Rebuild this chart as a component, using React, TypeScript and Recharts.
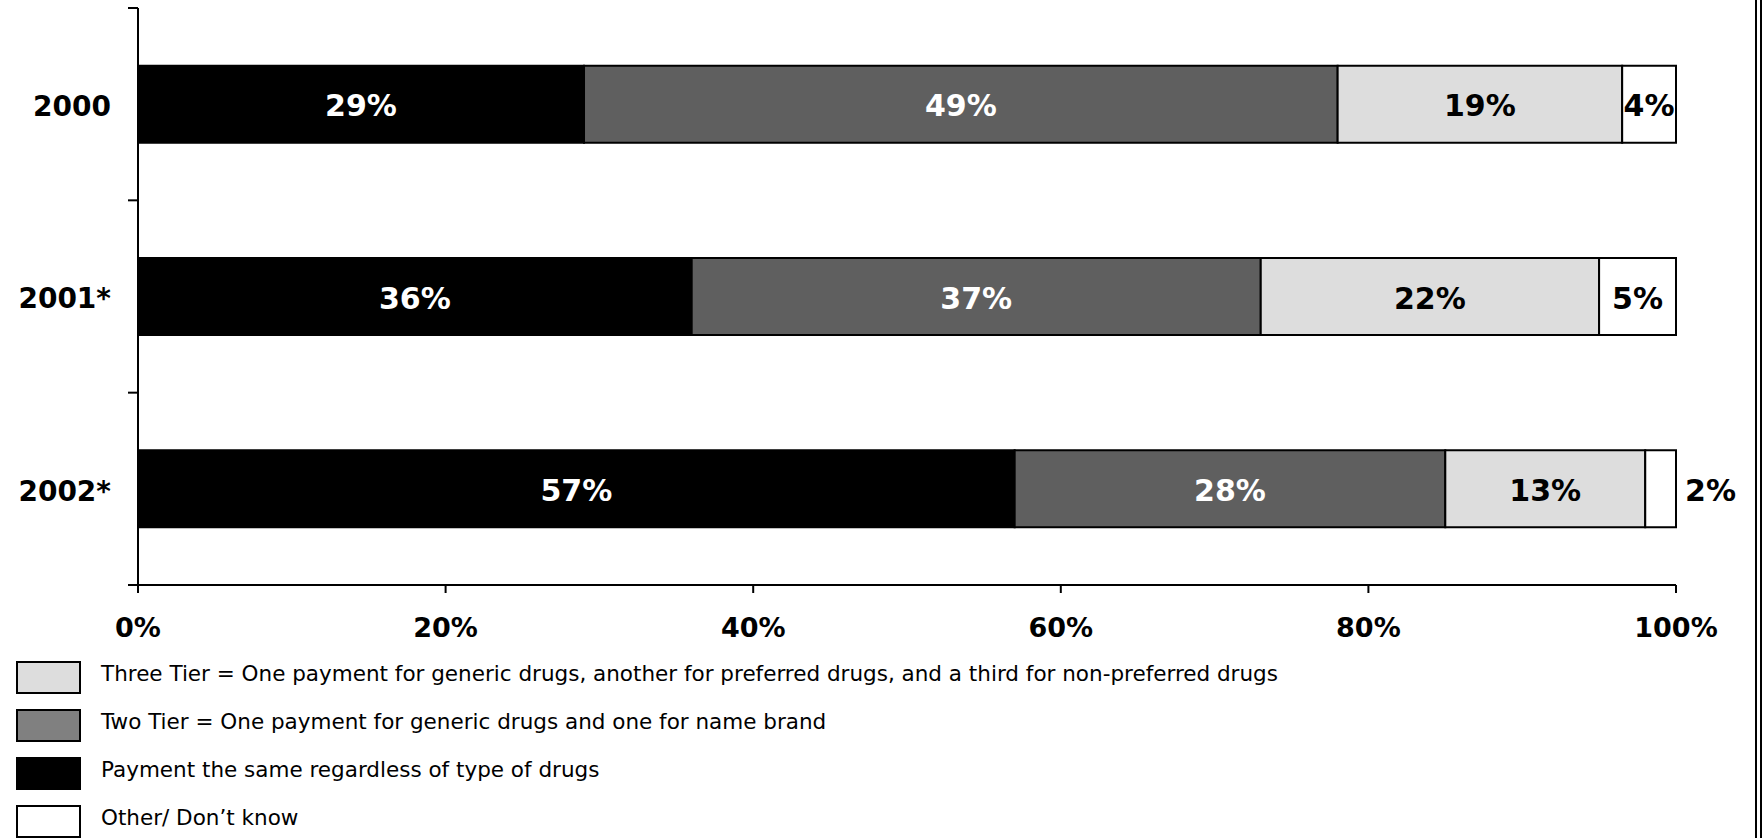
import React from 'react';
import { BarChart, Bar, XAxis, YAxis, LabelList, Legend } from 'recharts';

// ---- data ----
const years = ['2000', '2001*', '2002*'];
const sameValues = [29, 36, 57];
const twoTierValues = [49, 37, 28];
const threeTierValues = [18.5, 22, 13];
const otherValues = [3.5, 5, 2];
const xTicks = [0, 20, 40, 60, 80, 100];

const seriesKeys = ['same', 'twoTier', 'threeTier', 'other'];
const seriesLabels: Record<string, string> = {
  threeTier: 'Three Tier = One payment for generic drugs, another for preferred drugs, and a third for non-preferred drugs',
  twoTier: 'Two Tier = One payment for generic drugs and one for name brand',
  same: 'Payment the same regardless of type of drugs',
  other: 'Other/ Don\u2019t know',
};
const legendOrder = ['threeTier', 'twoTier', 'same', 'other'];

// ---- styles ----
const barColors: Record<string, string> = {
  same: '#000000',
  twoTier: '#5f5f5f',
  threeTier: '#dddddd',
  other: '#ffffff',
};
const swatchColors: Record<string, string> = {
  same: '#000000',
  twoTier: '#808080',
  threeTier: '#dddddd',
  other: '#ffffff',
};
const labelColors: Record<string, string> = {
  same: '#ffffff',
  twoTier: '#ffffff',
  threeTier: '#000000',
  other: '#000000',
};

const BOLD_FONT = '"DejaVu Sans", Verdana, sans-serif';
const LEGEND_FONT = '"DejaVu Sans", Verdana, sans-serif';

const data = years.map((y, i) => ({
  year: y,
  same: sameValues[i],
  twoTier: twoTierValues[i],
  threeTier: threeTierValues[i],
  other: otherValues[i],
}));

const makeLabel = (key: string) => (props: any) => {
  const { x, y, width, height, value } = props;
  const v = Number(value);
  const outside = v < 3;
  const tx = outside ? x + width + 9 : x + width / 2;
  return (
    <text
      x={tx}
      y={y + height / 2}
      dy="0.4em"
      textAnchor={outside ? 'start' : 'middle'}
      fill={outside ? '#000000' : labelColors[key]}
      fontFamily={BOLD_FONT}
      fontWeight="bold"
      fontSize={30}
    >
      {Math.round(v)}%
    </text>
  );
};

const YTick = (props: any) => {
  const { x, y, payload, index } = props;
  const half = payload && payload.offset ? payload.offset : 96;
  const last = index === years.length - 1;
  return (
    <g>
      <line x1={x - 10} x2={x} y1={y - half} y2={y - half} stroke="#000" strokeWidth={2} />
      {last && <line x1={x - 10} x2={x} y1={y + half} y2={y + half} stroke="#000" strokeWidth={2} />}
      <text
        x={x - 27}
        y={y}
        dy="0.42em"
        textAnchor="end"
        fill="#000"
        fontFamily={BOLD_FONT}
        fontWeight="bold"
        fontSize={28}
      >
        {payload.value}
      </text>
    </g>
  );
};

const XTick = (props: any) => {
  const { x, y, payload } = props;
  return (
    <text
      x={x}
      y={y + 32}
      dy="0.36em"
      textAnchor="middle"
      fill="#000"
      fontFamily={BOLD_FONT}
      fontWeight="bold"
      fontSize={27}
    >
      {payload.value}%
    </text>
  );
};

const LegendContent = () => (
  <div style={{ position: 'relative', width: 1400, height: 193 }}>
    {legendOrder.map((key, i) => (
      <div
        key={key}
        style={{
          position: 'absolute',
          left: 16,
          top: 16 + i * 48,
          height: 33,
          display: 'flex',
          alignItems: 'center',
        }}
      >
        <div
          style={{
            width: 61,
            height: 29,
            background: swatchColors[key],
            border: '2px solid #000',
            flex: 'none',
          }}
        />
        <span
          style={{
            marginLeft: 20,
            marginTop: -8,
            fontFamily: LEGEND_FONT,
            fontSize: 21.5,
            color: '#000',
            whiteSpace: 'nowrap',
          }}
        >
          {seriesLabels[key]}
        </span>
      </div>
    ))}
  </div>
);

export default function App() {
  return (
    <div
      style={{
        position: 'absolute',
        left: 0,
        top: 0,
        width: 1762,
        height: 838,
        boxSizing: 'border-box',
        borderRight: '7px double #000',
        background: '#fff',
        overflow: 'hidden',
      }}
    >
      <BarChart
        width={1755}
        height={838}
        data={data}
        layout="vertical"
        margin={{ top: 8, right: 79, left: 8, bottom: 0 }}
        barCategoryGap="30%"
      >
        <XAxis
          type="number"
          domain={[0, 100]}
          ticks={xTicks}
          interval={0}
          height={60}
          axisLine={{ stroke: '#000', strokeWidth: 2 }}
          tickLine={{ stroke: '#000', strokeWidth: 2 }}
          tickSize={8}
          tick={<XTick />}
        />
        <YAxis
          type="category"
          dataKey="year"
          width={130}
          axisLine={{ stroke: '#000', strokeWidth: 2 }}
          tickLine={false}
          tickSize={0}
          tickMargin={0}
          tick={<YTick />}
        />
        <Legend
          verticalAlign="bottom"
          align="left"
          content={<LegendContent />}
          wrapperStyle={{ left: 0, top: 645, width: 1400, height: 193 }}
        />
        {seriesKeys.map((key) => (
          <Bar
            key={key}
            dataKey={key}
            name={seriesLabels[key]}
            stackId="a"
            fill={barColors[key]}
            stroke="#000"
            strokeWidth={2}
            isAnimationActive={false}
          >
            <LabelList dataKey={key} content={makeLabel(key)} />
          </Bar>
        ))}
      </BarChart>
    </div>
  );
}
